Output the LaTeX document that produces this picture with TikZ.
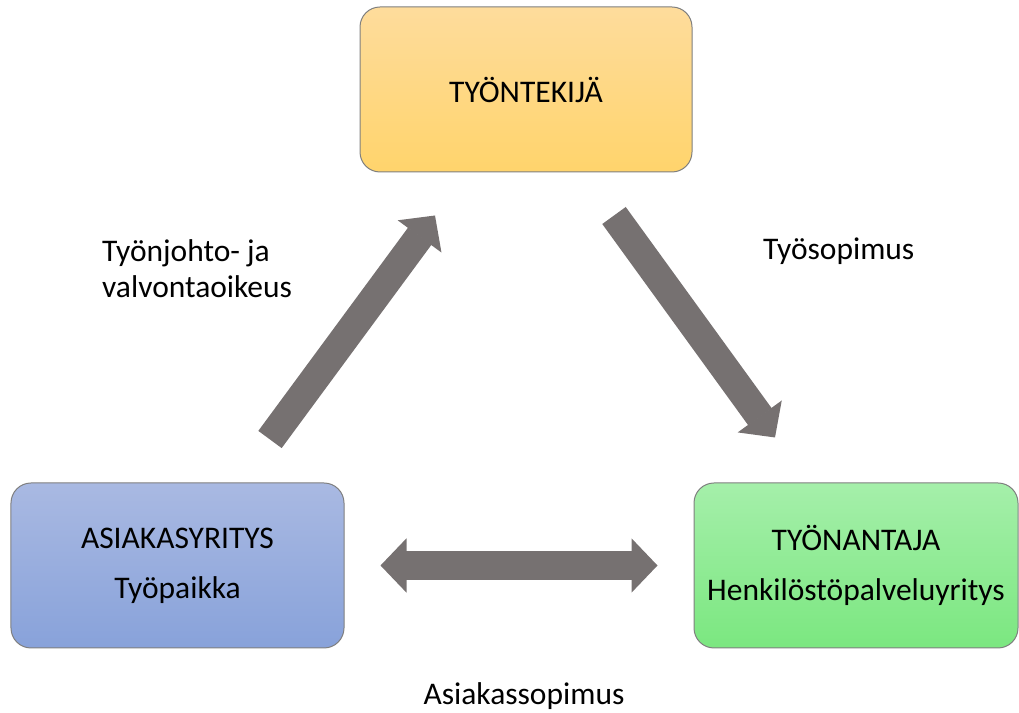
\documentclass[tikz,border=0pt]{standalone}
\usepackage{fontspec}
\setmainfont{Carlito}
\usetikzlibrary{positioning, arrows.meta}
\definecolor{orHaut}{HTML}{FEDC9C}
\definecolor{orBas}{HTML}{FFD46C}
\definecolor{bleuHaut}{HTML}{A9B9E2}
\definecolor{bleuBas}{HTML}{88A2DA}
\definecolor{vertHaut}{HTML}{A5EFAA}
\definecolor{vertBas}{HTML}{7BE780}
\definecolor{grisFleche}{HTML}{767171}
\definecolor{grisBord}{HTML}{7F7F7F}

\begin{document}
\begin{tikzpicture}[x=1bp, y=1bp, >={Triangle[length=26bp, width=54bp, line width=2bp]}]
        % Style des boites
        \tikzstyle{boite} = [rectangle, rounded corners=20bp, minimum height=165bp, draw=grisBord, line width=1bp, align=center, font=\fontsize{31.5bp}{50bp}\selectfont]
        \tikzstyle{fleche} = [draw=grisFleche, line width=29bp, ->]
        \tikzstyle{texte} = [inner sep=0pt, font=\fontsize{31.5bp}{36bp}\selectfont]

        \useasboundingbox (0,0) rectangle (1019,713);

        % Boites en degrade
        \node (tyontekija) [boite, minimum width=332bp, top color=orHaut, bottom color=orBas] at (526,623.5) {TYÖNTEKIJÄ};
        \node (asiakas) [boite, minimum width=333bp, top color=bleuHaut, bottom color=bleuBas] at (177.5,147.5) {ASIAKASYRITYS\\Työpaikka};
        \node (tyonantaja) [boite, minimum width=324bp, top color=vertHaut, bottom color=vertBas] at (856,147.5) {TYÖNANTAJA\\Henkilöstöpalveluyritys};

        % Fleches
        \draw [fleche] ([xshift=92.5bp, yshift=43bp]asiakas.north) -- ([xshift=-91bp, yshift=-43bp]tyontekija.south);
        \draw [fleche] ([xshift=88bp, yshift=-43bp]tyontekija.south) -- ([xshift=-81bp, yshift=45bp]tyonantaja.north);
        \draw [fleche, <->, shorten <=36bp, shorten >=36bp] (asiakas.east) -- (tyonantaja.west);

        % Textes
        \node (johto) [texte, anchor=base west, align=left] at (102,415) {Työnjohto- ja\\valvontaoikeus};
        \node (sopimus) [texte, anchor=base west] at (763,453) {Työsopimus};
        \node (asiakassop) [texte, anchor=base] at (524,8) {Asiakassopimus};
    \end{tikzpicture}
\end{document}
